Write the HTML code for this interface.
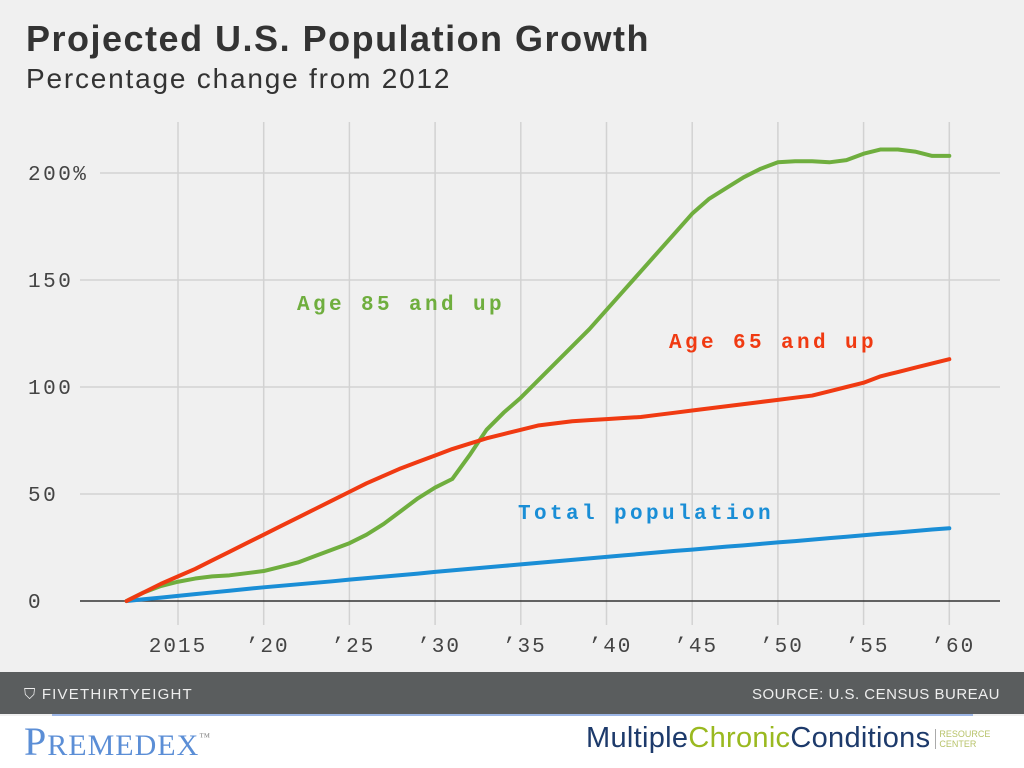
<!DOCTYPE html>
<html><head><meta charset="utf-8"><style>
body{margin:0;width:1024px;height:768px;background:#fff;overflow:hidden;font-family:"Liberation Sans",sans-serif}
#wrap{position:absolute;left:0;top:0;width:1024px;height:716px;background:#f0f0f0}
</style></head><body>
<div id="wrap">
<svg id="chart" width="1024" height="768" style="position:absolute;left:0;top:0">
<text x="26" y="51" font-size="36" font-weight="bold" fill="#333" letter-spacing="1.5" font-family="Liberation Sans, sans-serif">Projected U.S. Population Growth</text>
<text x="26" y="88" font-size="28" fill="#333" letter-spacing="1.8" font-family="Liberation Sans, sans-serif">Percentage change from 2012</text>
<g id="grid"></g><g id="series"></g><g id="labels"></g>
<rect x="0" y="672" width="1024" height="42" fill="#5a5d5e"/>
<text x="24" y="699" font-size="15" fill="#eee" letter-spacing="1.2">⛉ FIVETHIRTYEIGHT</text>
<text x="1000" y="699" font-size="15" fill="#eee" text-anchor="end" letter-spacing="0.5">SOURCE: U.S. CENSUS BUREAU</text>
</svg></div>
<div style="position:absolute;left:52px;top:714px;width:921px;height:2px;background:#9db6e6"></div>
<div style="position:absolute;left:24px;top:718px;font-family:'Liberation Serif',serif;font-size:40px;color:#5b8ed6;letter-spacing:1px">P<span style="font-size:30px">REMEDEX</span><sup style="font-size:11px;color:#888">™</sup></div>
<div style="position:absolute;left:586px;top:722px;font-size:29px;color:#1d3a6b;letter-spacing:0.3px;white-space:nowrap">Multiple<span style="color:#9ab920">Chronic</span>Conditions<span style="font-size:9px;color:#b8c36a;display:inline-block;line-height:10px;margin-left:5px;border-left:1px solid #aaa;padding-left:3px;letter-spacing:0">RESOURCE<br>CENTER</span></div>
<script>
const years=[2012,2013,2014,2015,2016,2017,2018,2019,2020,2021,2022,2023,2024,2025,2026,2027,2028,2029,2030,2031,2032,2033,2034,2035,2036,2037,2038,2039,2040,2041,2042,2043,2044,2045,2046,2047,2048,2049,2050,2051,2052,2053,2054,2055,2056,2057,2058,2059,2060];
const age85=[0,4,7,9,10.5,11.5,12,13,14,16,18,21,24,27,31,36,42,48,53,57,68,80,88,95,103,111,119,127,136,145,154,163,172,181,188,193,198,202,205,205.5,205.5,205,206,209,211,211,210,208,208];
const age65=[0,4,8,11.5,15,19,23,27,31,35,39,43,47,51,55,58.5,62,65,68,71,73.5,76,78,80,82,83,84,84.5,85,85.5,86,87,88,89,90,91,92,93,94,95,96,98,100,102,105,107,109,111,113];
const total=[0,0.8,1.6,2.4,3.2,4,4.8,5.6,6.4,7.1,7.8,8.5,9.2,10,10.7,11.4,12.1,12.8,13.6,14.3,15,15.7,16.4,17.1,17.8,18.5,19.2,19.9,20.6,21.3,22,22.7,23.4,24,24.7,25.4,26,26.7,27.4,28,28.7,29.4,30,30.7,31.4,32,32.7,33.4,34];
const yTicks=[0,50,100,150,200];
const yTickLabels=['0','50','100','150','200%'];
const xTicks=[2015,2020,2025,2030,2035,2040,2045,2050,2055,2060];
const xTickLabels=['2015',"’20","’25","’30","’35","’40","’45","’50","’55","’60"];
const NS='http://www.w3.org/2000/svg';
const xs=y=>178+(y-2015)*17.14;
const ys=v=>601-v*2.14;
function mk(tag,attrs,parent){const e=document.createElementNS(NS,tag);for(const k in attrs)e.setAttribute(k,attrs[k]);parent.appendChild(e);return e;}
const grid=document.getElementById('grid'),ser=document.getElementById('series'),lab=document.getElementById('labels');
xTicks.forEach((t,i)=>{
 const l=mk('line',{x1:xs(t),x2:xs(t),y1:122,y2:625,stroke:'#d2d2d2','stroke-width':1.5},grid);
 
 
 const tx=mk('text',{x:xs(t)+(i===0?0:4),y:652,'text-anchor':'middle','font-size':21,fill:'#444','font-family':'Liberation Mono, monospace','letter-spacing':2},lab);
 tx.textContent=xTickLabels[i];
 
 
});
yTicks.forEach((t,i)=>{
 const x0=t===200?100:80;
 const l=mk('line',{x1:x0,x2:1000,y1:ys(t),y2:ys(t),stroke:t===0?'#333':'#d2d2d2','stroke-width':1.5},grid);
 
 
 const tx=mk('text',{x:28,y:ys(t)+7,'font-size':21,fill:'#444','font-family':'Liberation Mono, monospace','letter-spacing':2.5},lab);
 tx.textContent=yTickLabels[i];
 
 
});
function line(vals,color,name){
 const p=mk('polyline',{points:vals.map((v,i)=>xs(years[i])+','+ys(v)).join(' '),fill:'none',stroke:color,'stroke-width':4,'stroke-linejoin':'round','stroke-linecap':'round'},ser);
 
 
}
line(total,'#1a8ed6','line-total-population');
line(age85,'#6fae3e','line-age-85-and-up');
line(age65,'#f03a12','line-age-65-and-up');
function note(x,y,txt,color,name){
 const t=mk('text',{x:x,y:y,'font-size':21,'font-weight':'bold',fill:color,'font-family':'Liberation Mono, monospace','letter-spacing':3.4},lab);
 t.textContent=txt;
 
 
}
note(297,310,'Age 85 and up','#6fae3e','label-age-85');
note(669,348,'Age 65 and up','#f03a12','label-age-65');
note(518,519,'Total population','#1a8ed6','label-total-population');
</script>
</body></html>
